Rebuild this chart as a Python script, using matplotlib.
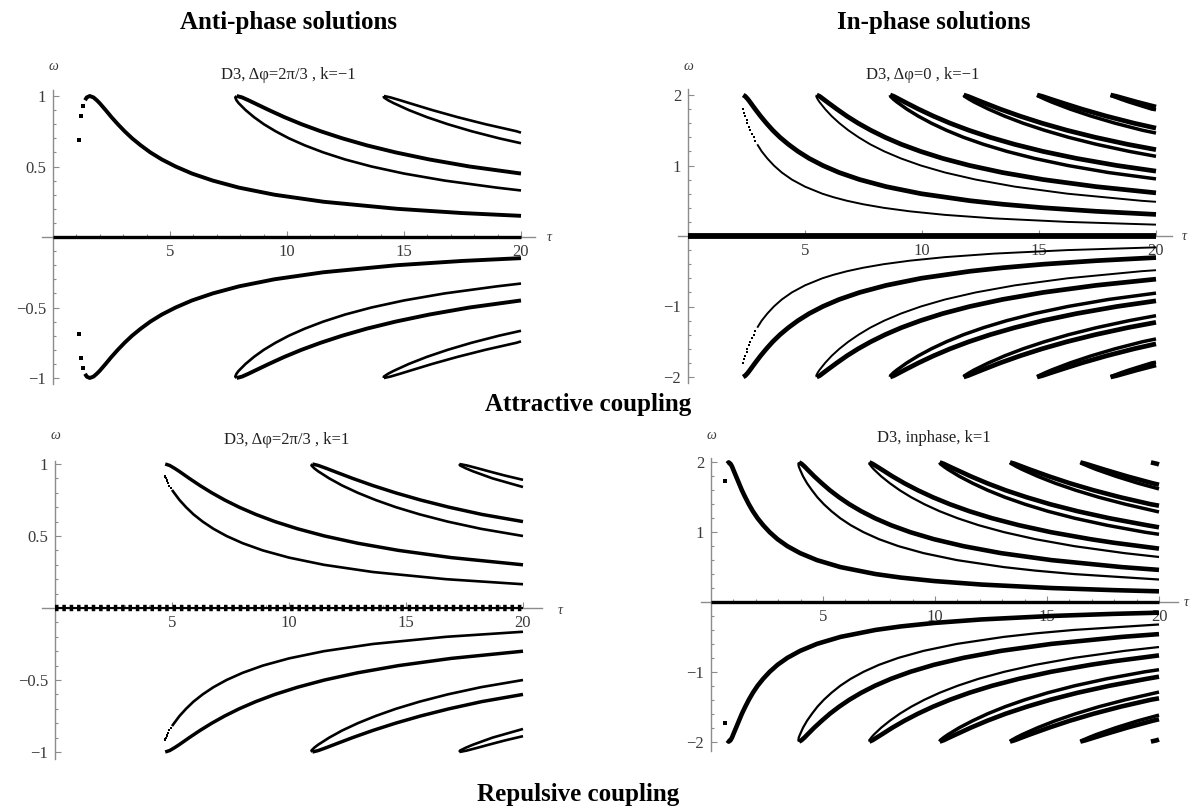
import numpy as np
import matplotlib
matplotlib.use('Agg')
import matplotlib.pyplot as plt

W, H = 1197, 811

plt.rcParams.update({
    'font.family': ['Liberation Serif', 'DejaVu Serif'],
    'axes.unicode_minus': True,
})

# Values: tau and |omega| along each branch of the upper
# half-plane.  Every panel is mirror symmetric, the lower half is drawn as -omega.

ZERO_TAU = [0.0, 20.0]
ZERO_OM = [0.0, 0.0]

# (a) attractive coupling, anti-phase: D3, dphi=2pi/3, k=-1
AA_THICK = [
    ([1.37, 1.44, 1.57, 1.73, 1.87, 1.99, 2.25, 2.50, 2.77, 3.06, 3.38, 3.75, 4.16, 4.65, 5.24, 5.94,
      6.83, 7.95, 9.46, 11.56, 14.70, 17.47, 20.0],
     [0.97, 0.99, 1.00, 0.99, 0.97, 0.95, 0.90, 0.85, 0.80, 0.75, 0.70, 0.65, 0.60, 0.55, 0.50, 0.45,
      0.40, 0.35, 0.30, 0.25, 0.20, 0.17, 0.15]),
    ([7.85, 8.08, 8.35, 8.60, 9.23, 9.89, 10.62, 11.44, 12.36, 13.41, 14.64, 16.08, 17.80, 20.0],
     [1.00, 0.99, 0.97, 0.95, 0.90, 0.85, 0.80, 0.75, 0.70, 0.65, 0.60, 0.55, 0.50, 0.45]),
]
AA_THIN = [
    ([7.85, 7.79, 7.84, 7.93, 8.23, 8.59, 9.01, 9.51, 10.08, 10.76, 11.55, 12.48, 13.61, 15.00, 16.74,
      18.97, 20.0],
     [1.00, 0.99, 0.97, 0.95, 0.90, 0.85, 0.80, 0.75, 0.70, 0.65, 0.60, 0.55, 0.50, 0.45, 0.40,
      0.35, 0.33]),
    ([14.14, 14.42, 14.83, 15.22, 16.21, 17.29, 18.48, 19.81, 20.0],
     [1.00, 0.99, 0.97, 0.95, 0.90, 0.85, 0.80, 0.75, 0.74]),
    ([14.14, 14.14, 14.32, 14.55, 15.21, 15.98, 16.87, 17.89, 19.06, 20.0],
     [1.00, 0.99, 0.97, 0.95, 0.90, 0.85, 0.80, 0.75, 0.70, 0.665]),
]
AA_DOTS = [([1.11, 1.20, 1.30], [0.69, 0.86, 0.93])]

# (b) attractive coupling, in-phase: D3, dphi=0, k=-1
AI_THICK = [
    ([2.36, 2.45, 2.56, 2.65, 2.87, 3.10, 3.35, 3.62, 3.93, 4.29, 4.70, 5.18, 5.76, 6.46, 7.34, 8.47,
      9.96, 12.06, 13.46, 15.20, 17.45, 20.0],
     [2.00, 1.98, 1.94, 1.90, 1.80, 1.70, 1.60, 1.50, 1.40, 1.30, 1.20, 1.10, 1.00, 0.90, 0.80, 0.70,
      0.60, 0.50, 0.45, 0.40, 0.35, 0.306]),
    ([5.50, 5.63, 5.79, 5.95, 6.36, 6.79, 7.27, 7.81, 8.42, 9.12, 9.94, 10.89, 12.04, 13.44, 15.19,
      17.44, 20.0],
     [2.00, 1.98, 1.94, 1.90, 1.80, 1.70, 1.60, 1.50, 1.40, 1.30, 1.20, 1.10, 1.00, 0.90, 0.80,
      0.70, 0.612]),
    ([8.64, 8.80, 9.03, 9.26, 9.85, 10.49, 11.20, 12.00, 12.91, 13.96, 15.17, 16.61, 18.33, 20.0],
     [2.00, 1.98, 1.94, 1.90, 1.80, 1.70, 1.60, 1.50, 1.40, 1.30, 1.20, 1.10, 1.00, 0.92]),
    ([11.78, 11.97, 12.27, 12.57, 13.34, 14.19, 15.13, 16.19, 17.40, 18.79, 20.0],
     [2.00, 1.98, 1.94, 1.90, 1.80, 1.70, 1.60, 1.50, 1.40, 1.30, 1.225]),
    ([14.92, 15.15, 15.51, 15.88, 16.83, 17.88, 19.06, 20.0],
     [2.00, 1.98, 1.94, 1.90, 1.80, 1.70, 1.60, 1.53]),
    ([18.06, 18.32, 18.75, 19.18, 20.0],
     [2.00, 1.98, 1.94, 1.90, 1.83]),
]
AI_MID = [
    ([8.64, 8.66, 8.78, 8.93, 9.35, 9.84, 10.40, 11.04, 11.77, 12.63, 13.63, 14.81, 16.23, 17.97, 20.0],
     [2.00, 1.98, 1.94, 1.90, 1.80, 1.70, 1.60, 1.50, 1.40, 1.30, 1.20, 1.10, 1.00, 0.90, 0.81]),
    ([11.78, 11.83, 12.02, 12.23, 12.84, 13.53, 14.32, 15.23, 16.26, 17.46, 18.86, 20.0],
     [2.00, 1.98, 1.94, 1.90, 1.80, 1.70, 1.60, 1.50, 1.40, 1.30, 1.20, 1.13]),
    ([14.92, 15.00, 15.26, 15.54, 16.33, 17.23, 18.25, 19.42, 20.0],
     [2.00, 1.98, 1.94, 1.90, 1.80, 1.70, 1.60, 1.50, 1.46]),
    ([18.06, 18.18, 18.50, 18.85, 19.82, 20.0],
     [2.00, 1.98, 1.94, 1.90, 1.80, 1.79]),
]
AI_THIN = [
    ([2.96, 3.15, 3.39, 3.67, 4.01, 4.44, 5.00, 5.74, 6.22, 6.79, 7.49, 8.36, 9.48, 10.97, 13.07,
      16.21, 20.0],
     [1.30, 1.20, 1.10, 1.00, 0.90, 0.80, 0.70, 0.60, 0.55, 0.50, 0.45, 0.40, 0.35, 0.30, 0.25,
      0.20, 0.161]),
    ([5.50, 5.48, 5.54, 5.62, 5.86, 6.14, 6.47, 6.85, 7.29, 7.79, 8.39, 9.10, 9.95, 10.99, 12.30,
      13.97, 16.22, 19.36, 20.0],
     [2.00, 1.98, 1.94, 1.90, 1.80, 1.70, 1.60, 1.50, 1.40, 1.30, 1.20, 1.10, 1.00, 0.90, 0.80,
      0.70, 0.60, 0.50, 0.485]),
]
AI_DOTS = [([2.37, 2.41, 2.45, 2.50, 2.54, 2.60, 2.66, 2.73, 2.80, 2.88],
            [1.80, 1.75, 1.70, 1.65, 1.60, 1.55, 1.50, 1.45, 1.40, 1.35])]

# (c) repulsive coupling, anti-phase: D3, dphi=2pi/3, k=1
RA_THICK = [
    ([4.71, 4.90, 5.11, 5.30, 5.74, 6.20, 6.70, 7.25, 7.87, 8.58, 9.40, 10.37, 11.52, 12.93, 14.68,
      16.93, 20.0],
     [1.00, 0.99, 0.97, 0.95, 0.90, 0.85, 0.80, 0.75, 0.70, 0.65, 0.60, 0.55, 0.50, 0.45, 0.40,
      0.35, 0.30]),
    ([11.00, 11.25, 11.59, 11.91, 12.72, 13.59, 14.55, 15.62, 16.84, 18.24, 20.0],
     [1.00, 0.99, 0.97, 0.95, 0.90, 0.85, 0.80, 0.75, 0.70, 0.65, 0.60]),
]
RA_THIN = [
    ([5.00, 5.09, 5.32, 5.60, 5.92, 6.31, 6.77, 7.33, 8.02, 8.88, 10.00, 11.49, 13.58, 16.72, 20.0],
     [0.82, 0.80, 0.75, 0.70, 0.65, 0.60, 0.55, 0.50, 0.45, 0.40, 0.35, 0.30, 0.25, 0.20, 0.165]),
    ([11.00, 10.96, 11.08, 11.24, 11.72, 12.28, 12.94, 13.70, 14.57, 15.59, 16.78, 18.20, 20.0],
     [1.00, 0.99, 0.97, 0.95, 0.90, 0.85, 0.80, 0.75, 0.70, 0.65, 0.60, 0.55, 0.50]),
    ([17.28, 17.60, 18.07, 18.52, 19.22, 20.0],
     [1.00, 0.99, 0.97, 0.95, 0.92, 0.89]),
    ([17.28, 17.31, 17.56, 17.85, 18.70, 20.0],
     [1.00, 0.99, 0.97, 0.95, 0.90, 0.84]),
]
RA_DOTS = [([4.68, 4.71, 4.74, 4.77, 4.80, 4.85, 4.89, 4.95],
            [0.92, 0.91, 0.90, 0.89, 0.88, 0.865, 0.85, 0.835])]

# (d) repulsive coupling, in-phase: D3, inphase, k=1
RI_THICK = [
    ([0.72, 0.79, 0.87, 0.94, 0.99, 1.12, 1.25, 1.38, 1.53, 1.69, 1.87, 2.08, 2.33, 2.62, 2.97, 3.41,
      3.98, 4.73, 5.78, 7.35, 8.47, 9.97, 12.07, 15.21, 17.98, 20.0],
     [1.98, 2.00, 1.98, 1.94, 1.90, 1.80, 1.70, 1.60, 1.50, 1.40, 1.30, 1.20, 1.10, 1.00, 0.90, 0.80,
      0.70, 0.60, 0.50, 0.40, 0.35, 0.30, 0.25, 0.20, 0.17, 0.153]),
    ([3.93, 4.04, 4.18, 4.30, 4.61, 4.95, 5.31, 5.72, 6.18, 6.71, 7.32, 8.04, 8.90, 9.95, 11.27,
      12.95, 15.20, 18.34, 20.0],
     [2.00, 1.98, 1.94, 1.90, 1.80, 1.70, 1.60, 1.50, 1.40, 1.30, 1.20, 1.10, 1.00, 0.90, 0.80,
      0.70, 0.60, 0.50, 0.46]),
    ([7.07, 7.21, 7.41, 7.61, 8.10, 8.64, 9.24, 9.91, 10.67, 11.54, 12.55, 13.75, 15.18, 16.94,
      17.96, 20.0],
     [2.00, 1.98, 1.94, 1.90, 1.80, 1.70, 1.60, 1.50, 1.40, 1.30, 1.20, 1.10, 1.00, 0.90,
      0.85, 0.765]),
    ([10.21, 10.39, 10.65, 10.92, 11.60, 12.34, 13.16, 14.10, 15.15, 16.37, 17.79, 19.46, 20.0],
     [2.00, 1.98, 1.94, 1.90, 1.80, 1.70, 1.60, 1.50, 1.40, 1.30, 1.20, 1.10, 1.07]),
    ([13.35, 13.56, 13.89, 14.22, 15.09, 16.03, 17.09, 18.28, 19.64, 20.0],
     [2.00, 1.98, 1.94, 1.90, 1.80, 1.70, 1.60, 1.50, 1.40, 1.38]),
    ([16.49, 16.73, 17.13, 17.53, 18.58, 19.73, 20.0],
     [2.00, 1.98, 1.94, 1.90, 1.80, 1.70, 1.68]),
    ([19.64, 19.91, 20.0],
     [2.00, 1.98, 1.97]),
]
RI_MID = [
    ([10.21, 10.24, 10.40, 10.58, 11.09, 11.69, 12.36, 13.13, 14.02, 15.04, 16.24, 17.67, 19.37, 20.0],
     [2.00, 1.98, 1.94, 1.90, 1.80, 1.70, 1.60, 1.50, 1.40, 1.30, 1.20, 1.10, 1.00, 0.97]),
    ([13.35, 13.42, 13.64, 13.89, 14.59, 15.38, 16.29, 17.32, 18.51, 20.0],
     [2.00, 1.98, 1.94, 1.90, 1.80, 1.70, 1.60, 1.50, 1.40, 1.29]),
    ([16.49, 16.59, 16.88, 17.19, 18.08, 19.08, 20.0],
     [2.00, 1.98, 1.94, 1.90, 1.80, 1.70, 1.62]),
]
RI_THIN = [
    ([3.93, 3.90, 3.92, 3.97, 4.11, 4.29, 4.51, 4.75, 5.04, 5.38, 5.77, 6.24, 6.81, 7.50, 8.37, 9.49,
      10.98, 13.07, 14.47, 16.21, 20.0],
     [2.00, 1.98, 1.94, 1.90, 1.80, 1.70, 1.60, 1.50, 1.40, 1.30, 1.20, 1.10, 1.00, 0.90, 0.80, 0.70,
      0.60, 0.50, 0.45, 0.40, 0.322]),
    ([7.07, 7.07, 7.16, 7.27, 7.60, 7.99, 8.43, 8.94, 9.53, 10.21, 11.01, 11.95, 13.09, 14.48, 16.22,
      18.46, 20.0],
     [2.00, 1.98, 1.94, 1.90, 1.80, 1.70, 1.60, 1.50, 1.40, 1.30, 1.20, 1.10, 1.00, 0.90, 0.80,
      0.70, 0.645]),
]
RI_DOTS = [([0.61], [1.73])]

AXIS_GREY = '#8c8c8c'
LABEL_GREY = '#3a3a3a'


def make_axes(fig, origin, scale, xlim, ylim):
    # origin: pixel of (tau=0, omega=0); scale: pixels per unit
    x0, y0 = origin
    sx, sy = scale
    left = x0 + xlim[0] * sx
    right = x0 + xlim[1] * sx
    top = y0 - ylim[1] * sy
    bottom = y0 - ylim[0] * sy
    ax = fig.add_axes([left / W, 1 - bottom / H, (right - left) / W, (bottom - top) / H])
    ax.set_xlim(xlim)
    ax.set_ylim(ylim)
    ax.patch.set_visible(False)
    return ax


def style_axes(ax, xspan, yspan, ymajor, ylabels, yminor, omega_pos, tau_pos):
    for side in ('top', 'right'):
        ax.spines[side].set_visible(False)
    for side in ('left', 'bottom'):
        ax.spines[side].set_position(('data', 0))
        ax.spines[side].set_color(AXIS_GREY)
        ax.spines[side].set_linewidth(1.0)
    ax.spines['left'].set_bounds(*yspan)
    ax.spines['bottom'].set_bounds(*xspan)

    ax.set_xticks([5, 10, 15, 20])
    ax.set_xticklabels(['5', '10', '15', '20'])
    ax.set_xticks(range(1, 21), minor=True)
    ax.set_yticks(ymajor)
    ax.set_yticklabels(ylabels)
    ax.set_yticks(yminor, minor=True)
    ax.tick_params(which='both', direction='in', color=AXIS_GREY,
                   labelcolor=LABEL_GREY, labelsize=12, width=0.8)
    ax.tick_params(which='major', length=4)
    ax.tick_params(which='minor', length=2)
    ax.tick_params(axis='x', pad=5)
    ax.tick_params(axis='y', pad=5)

    ax.text(omega_pos[0], omega_pos[1], '\u03c9', ha='center', va='center',
            fontsize=10, style='italic', color=LABEL_GREY)
    ax.text(tau_pos[0], tau_pos[1], '\u03c4', ha='center', va='center',
            fontsize=10, style='italic', color=LABEL_GREY)


def draw_mirrored(ax, branches, **kw):
    for tau, om in branches:
        om = np.asarray(om)
        ax.plot(tau, om, color='black', zorder=3, solid_capstyle='butt',
                solid_joinstyle='round', **kw)
        ax.plot(tau, -om, color='black', zorder=3, solid_capstyle='butt',
                solid_joinstyle='round', **kw)


def draw_dots(ax, branches, size):
    for tau, om in branches:
        om = np.asarray(om)
        ax.plot(tau, om, ls='none', marker='s', ms=size, color='black', mew=0, zorder=3)
        ax.plot(tau, -om, ls='none', marker='s', ms=size, color='black', mew=0, zorder=3)


fig = plt.figure(figsize=(W / 100, H / 100), dpi=100)

# main headings
fig.text(289 / W, 1 - 22 / H, 'Anti-phase solutions', ha='center', va='center',
         fontsize=18, fontweight='bold')
fig.text(934 / W, 1 - 22 / H, 'In-phase solutions', ha='center', va='center',
         fontsize=18, fontweight='bold')
fig.text(588 / W, 1 - 404 / H, 'Attractive coupling', ha='center', va='center',
         fontsize=18, fontweight='bold')
fig.text(578 / W, 1 - 794 / H, 'Repulsive coupling', ha='center', va='center',
         fontsize=18, fontweight='bold')

# panel (a)
ax = make_axes(fig, (53, 237), (23.4, 141), (-1.0, 22.0), (-1.15, 1.15))
style_axes(ax, (-0.47, 20.6), (-1.04, 1.04), [-1, -0.5, 0.5, 1],
           ['\u22121', '\u22120.5', '0.5', '1'], np.arange(-10, 11) / 10,
           (0, 1.21), (21.2, 0.0))
ax.plot(ZERO_TAU, ZERO_OM, color='black', lw=2.4, zorder=3, solid_capstyle='butt')
draw_mirrored(ax, AA_THICK, lw=2.8)
draw_mirrored(ax, AA_THIN, lw=1.9)
draw_dots(ax, AA_DOTS, 2.8)
fig.text(288 / W, 1 - 75 / H, 'D3, \u0394\u03c6=2\u03c0/3 , k=\u22121', ha='center',
         va='center', fontsize=12, color='#222222')

# panel (b)
ax = make_axes(fig, (688, 236), (23.4, 70.5), (-1.0, 22.0), (-2.3, 2.3))
style_axes(ax, (-0.43, 20.7), (-2.08, 2.08), [-2, -1, 1, 2],
           ['\u22122', '\u22121', '1', '2'], np.arange(-10, 11) / 5,
           (0, 2.40), (21.2, 0.0))
ax.plot(ZERO_TAU, ZERO_OM, color='black', lw=4.2, zorder=3, solid_capstyle='butt')
draw_mirrored(ax, AI_THICK, lw=3.4)
draw_mirrored(ax, AI_MID, lw=2.5)
draw_mirrored(ax, AI_THIN, lw=1.4)
draw_dots(ax, AI_DOTS, 1.9)
fig.text(923 / W, 1 - 75 / H, 'D3, \u0394\u03c6=0 , k=\u22121', ha='center',
         va='center', fontsize=12, color='#222222')

# panel (c)
ax = make_axes(fig, (55, 608), (23.4, 144), (-1.0, 22.2), (-1.15, 1.15))
style_axes(ax, (-0.55, 20.8), (-1.05, 1.02), [-1, -0.5, 0.5, 1],
           ['\u22121', '\u22120.5', '0.5', '1'], np.arange(-10, 11) / 10,
           (0, 1.20), (21.6, -0.02))
ax.plot(ZERO_TAU, ZERO_OM, color='black', lw=1.5, zorder=3, solid_capstyle='butt')
ax.plot(ZERO_TAU, ZERO_OM, color='black', lw=4.6, zorder=3, dashes=(0.55, 0.6),
        dash_capstyle='butt')
draw_mirrored(ax, RA_THICK, lw=2.5)
draw_mirrored(ax, RA_THIN, lw=1.9)
draw_dots(ax, RA_DOTS, 2.0)
fig.text(287 / W, 1 - 440 / H, 'D3, \u0394\u03c6=2\u03c0/3 , k=1', ha='center',
         va='center', fontsize=12, color='#222222')

# panel (d)
ax = make_axes(fig, (711, 602), (22.4, 69.8), (-1.0, 22.2), (-2.3, 2.3))
style_axes(ax, (-0.45, 20.85), (-2.13, 2.07), [-2, -1, 1, 2],
           ['\u22122', '\u22121', '1', '2'], np.arange(-10, 11) / 5,
           (0, 2.39), (21.2, 0.0))
ax.plot(ZERO_TAU, ZERO_OM, color='black', lw=2.4, zorder=3, solid_capstyle='butt')
draw_mirrored(ax, RI_THICK, lw=3.3)
draw_mirrored(ax, RI_MID, lw=2.5)
draw_mirrored(ax, RI_THIN, lw=1.6)
draw_dots(ax, RI_DOTS, 2.4)
fig.text(934 / W, 1 - 438 / H, 'D3, inphase, k=1', ha='center',
         va='center', fontsize=12, color='#222222')

fig.savefig('out.png', dpi=100)
